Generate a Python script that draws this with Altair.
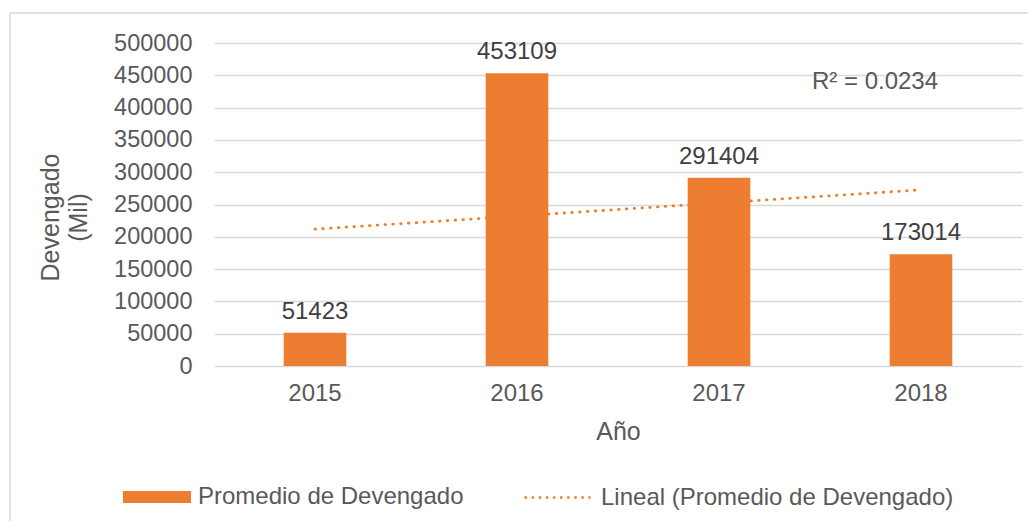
import altair as alt
import pandas as pd

# ---- data ----
anios = [2015, 2016, 2017, 2018]
devengado = [51423, 453109, 291404, 173014]
y_ticks = [0, 50000, 100000, 150000, 200000, 250000, 300000, 350000, 400000, 450000, 500000]
serie_barras = "Promedio de Devengado"
serie_tendencia = "Lineal (Promedio de Devengado)"

df = pd.DataFrame({"anio": anios, "valor": devengado, "serie": [serie_barras] * len(anios)})

ORANGE = "#ED7D31"
GRAY = "#595959"
DARK = "#404040"
GRID = "#D9D9D9"
FONT = "Liberation Sans"

base = alt.Chart(df)

x_enc = alt.X(
    "anio:O",
    title="Año",
    scale=alt.Scale(paddingInner=0.69, paddingOuter=0.345),
    axis=alt.Axis(
        labelAngle=0, ticks=False, domain=False, grid=False,
        labelPadding=15, titlePadding=14,
        labelFontSize=24, titleFontSize=25, titleFontWeight="normal",
        labelColor=GRAY, titleColor=GRAY, labelFont=FONT, titleFont=FONT,
    ),
)

y_enc = alt.Y(
    "valor:Q",
    title=["Devengado", "(Mil)"],
    scale=alt.Scale(domain=[0, 500000], nice=False),
    axis=alt.Axis(
        values=y_ticks, format="d", ticks=False, domain=False, labelOverlap=False,
        grid=True, gridColor=GRID, gridWidth=1.5,
        labelPadding=22, labelFontSize=23.5, labelColor=GRAY, labelFont=FONT,
        titleFontSize=25, titleFontWeight="normal", titleColor=GRAY, titleFont=FONT,
        titleAngle=-90, titleBaseline="middle", titleAlign="center",
        titleX=-164, titleY=174, titleLineHeight=28,
    ),
)

bars = base.mark_bar(color=ORANGE).encode(
    x=x_enc,
    y=y_enc,
    color=alt.Color(
        "serie:N",
        scale=alt.Scale(domain=[serie_barras], range=[ORANGE]),
        legend=alt.Legend(
            orient="none", legendX=-91, legendY=420, title=None, padding=0,
            symbolType="M-1,-0.176H1V0.176H-1Z", symbolSize=4624,
            symbolStrokeWidth=0, labelOffset=7, labelLimit=0,
            labelFontSize=24, labelColor=GRAY, labelFont=FONT,
        ),
    ),
)

labels = base.mark_text(
    baseline="alphabetic", dy=-14, fontSize=24, color=DARK, font=FONT
).encode(x=x_enc, y=y_enc, text=alt.Text("valor:Q", format="d"))

trend = (
    base.transform_regression("anio", "valor", method="linear", extent=[min(anios), max(anios)])
    .transform_calculate(serie="'" + serie_tendencia + "'")
    .mark_line(strokeDash=[0.5, 7.3], strokeCap="round", strokeWidth=2.8)
    .encode(
        x=x_enc,
        y=y_enc,
        color=alt.Color(
            "serie:N",
            scale=alt.Scale(domain=[serie_tendencia], range=[ORANGE]),
            legend=alt.Legend(
                orient="none", legendX=309, legendY=420, title=None, padding=0,
                symbolType="stroke", symbolSize=4356, symbolStrokeWidth=2.6,
                symbolDash=[2.5, 4.6], labelOffset=9, labelLimit=0,
                labelFontSize=24, labelColor=GRAY, labelFont=FONT,
            ),
        ),
    )
)

r2 = (
    base.transform_regression("anio", "valor", method="linear", params=True)
    .transform_calculate(label="'R² = ' + format(datum.rSquared, '.4f')")
    .mark_text(fontSize=24, color=GRAY, font=FONT, align="center", baseline="middle")
    .encode(x=alt.value(661), y=alt.value(39), text="label:N")
)

frame = (
    alt.Chart(pd.DataFrame({"k": [0]}))
    .mark_rect(fillOpacity=0, stroke=GRID, strokeWidth=1.5)
    .encode(x=alt.value(-204), x2=alt.value(840), y=alt.value(-30), y2=alt.value(520))
)

chart = (
    alt.layer(frame, bars, trend, labels, r2)
    .resolve_scale(color="independent")
    .properties(
        width=808, height=323,
        autosize=alt.AutoSizeParams(type="none"),
        padding={"left": 206, "top": 35, "right": 6, "bottom": 155},
        background="white",
    )
    .configure_view(stroke=None)
)

chart.save("out.html", embed_options={"renderer": "svg", "actions": False})
